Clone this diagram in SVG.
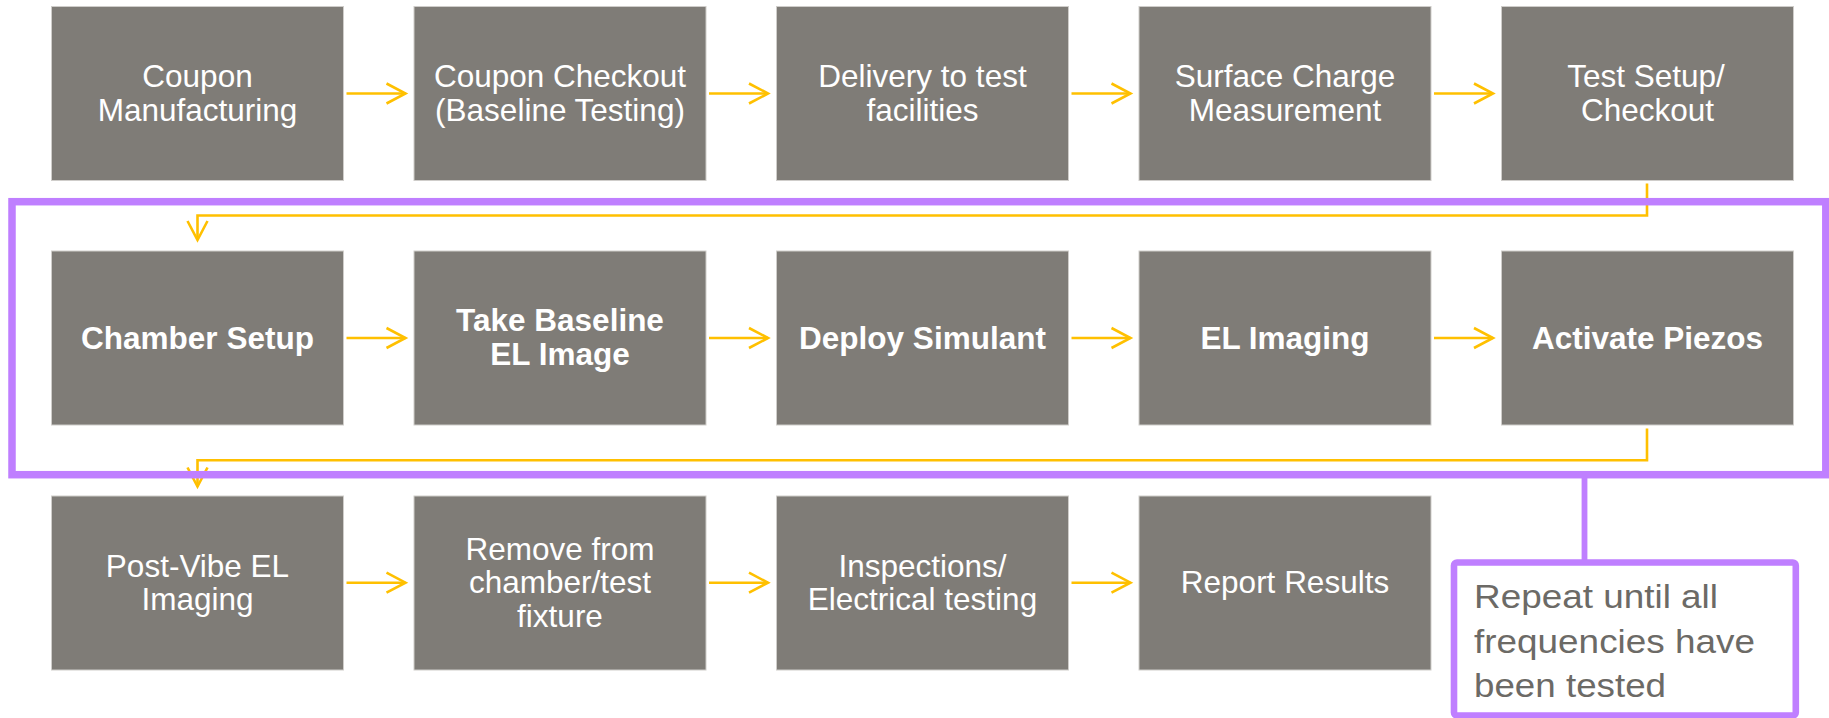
<svg xmlns="http://www.w3.org/2000/svg" width="1829" height="718" viewBox="0 0 1829 718">
  <style>
    .box { fill: #7F7C77; stroke: #CFCDCA; stroke-width: 1; }
    .lbl { font-family: "Liberation Sans", Arial, sans-serif; font-size: 31.5px; fill: #FFFFFF; text-anchor: middle; }
    .bold { font-weight: bold; }
    .flow { fill: none; stroke: #FFC000; stroke-width: 2.6; }
    .loop { fill: none; stroke: #BF7FFF; stroke-width: 7.5; }
    .note { font-family: "Liberation Sans", Arial, sans-serif; font-size: 32.5px; fill: #6C6A66; }
  </style>
  <defs>
    <marker id="chev" markerUnits="userSpaceOnUse" viewBox="0 0 24 24" markerWidth="24" markerHeight="24" refX="21" refY="12" orient="auto">
      <path d="M2,2 L21,12 L2,22" fill="none" stroke="#FFC000" stroke-width="2.6"/>
    </marker>
  </defs>
  <rect width="1829" height="718" fill="#FFFFFF"/>

  <!-- connectors -->
  <g id="connectors">
    <line class="flow" x1="346.5" y1="93.5" x2="405.5" y2="93.5" marker-end="url(#chev)"/>
    <line class="flow" x1="709" y1="93.5" x2="768" y2="93.5" marker-end="url(#chev)"/>
    <line class="flow" x1="1071.5" y1="93.5" x2="1130.5" y2="93.5" marker-end="url(#chev)"/>
    <line class="flow" x1="1434" y1="93.5" x2="1493" y2="93.5" marker-end="url(#chev)"/>
    <path class="flow" d="M1647,183.5 V215.5 H197.5 V240" marker-end="url(#chev)"/>
    <line class="flow" x1="346.5" y1="338" x2="405.5" y2="338" marker-end="url(#chev)"/>
    <line class="flow" x1="709" y1="338" x2="768" y2="338" marker-end="url(#chev)"/>
    <line class="flow" x1="1071.5" y1="338" x2="1130.5" y2="338" marker-end="url(#chev)"/>
    <line class="flow" x1="1434" y1="338" x2="1493" y2="338" marker-end="url(#chev)"/>
    <path class="flow" d="M1647,428.5 V460.3 H197.5 V486.5" marker-end="url(#chev)"/>
    <line class="flow" x1="346.5" y1="582.7" x2="405.5" y2="582.7" marker-end="url(#chev)"/>
    <line class="flow" x1="709" y1="582.7" x2="768" y2="582.7" marker-end="url(#chev)"/>
    <line class="flow" x1="1071.5" y1="582.7" x2="1130.5" y2="582.7" marker-end="url(#chev)"/>
  </g>

  <!-- row 1 -->
  <g id="coupon-manufacturing">
    <rect class="box" x="51.5" y="6.5" width="292" height="174"/>
    <text class="lbl" x="197.5" y="87.3">Coupon</text>
    <text class="lbl" x="197.5" y="120.7">Manufacturing</text>
  </g>
  <g id="coupon-checkout">
    <rect class="box" x="414" y="6.5" width="292" height="174"/>
    <text class="lbl" x="560" y="87.3">Coupon Checkout</text>
    <text class="lbl" x="560" y="120.7">(Baseline Testing)</text>
  </g>
  <g id="delivery">
    <rect class="box" x="776.5" y="6.5" width="292" height="174"/>
    <text class="lbl" x="922.5" y="87.3">Delivery to test</text>
    <text class="lbl" x="922.5" y="120.7">facilities</text>
  </g>
  <g id="surface-charge">
    <rect class="box" x="1139" y="6.5" width="292" height="174"/>
    <text class="lbl" x="1285" y="87.3">Surface Charge</text>
    <text class="lbl" x="1285" y="120.7">Measurement</text>
  </g>
  <g id="test-setup">
    <rect class="box" x="1501.5" y="6.5" width="292" height="174"/>
    <text class="lbl" x="1646" y="87.3">Test Setup/</text>
    <text class="lbl" x="1647.5" y="120.7">Checkout</text>
  </g>

  <!-- row 2 (repeated loop) -->
  <g id="chamber-setup">
    <rect class="box" x="51.5" y="251" width="292" height="174"/>
    <text class="lbl bold" x="197.5" y="348.5">Chamber Setup</text>
  </g>
  <g id="baseline-el">
    <rect class="box" x="414" y="251" width="292" height="174"/>
    <text class="lbl bold" x="560" y="331.3">Take Baseline</text>
    <text class="lbl bold" x="560" y="364.7">EL Image</text>
  </g>
  <g id="deploy-simulant">
    <rect class="box" x="776.5" y="251" width="292" height="174"/>
    <text class="lbl bold" x="922.5" y="348.5">Deploy Simulant</text>
  </g>
  <g id="el-imaging">
    <rect class="box" x="1139" y="251" width="292" height="174"/>
    <text class="lbl bold" x="1285" y="348.5">EL Imaging</text>
  </g>
  <g id="activate-piezos">
    <rect class="box" x="1501.5" y="251" width="292" height="174"/>
    <text class="lbl bold" x="1647.5" y="348.5">Activate Piezos</text>
  </g>

  <!-- row 3 -->
  <g id="post-vibe">
    <rect class="box" x="51.5" y="496" width="292" height="174"/>
    <text class="lbl" x="197.5" y="576.5">Post-Vibe EL</text>
    <text class="lbl" x="197.5" y="609.9">Imaging</text>
  </g>
  <g id="remove">
    <rect class="box" x="414" y="496" width="292" height="174"/>
    <text class="lbl" x="560" y="559.8">Remove from</text>
    <text class="lbl" x="560" y="593.2">chamber/test</text>
    <text class="lbl" x="560" y="626.6">fixture</text>
  </g>
  <g id="inspections">
    <rect class="box" x="776.5" y="496" width="292" height="174"/>
    <text class="lbl" x="922.5" y="576.5">Inspections/</text>
    <text class="lbl" x="922.5" y="609.9">Electrical testing</text>
  </g>
  <g id="report">
    <rect class="box" x="1139" y="496" width="292" height="174"/>
    <text class="lbl" x="1285" y="593.2">Report Results</text>
  </g>

  <!-- loop frame around the repeated steps -->
  <g id="loop-frame">
    <rect class="loop" x="12" y="201.7" width="1813.8" height="273"/>
  </g>

  <!-- loop note -->
  <g id="repeat-note">
    <line x1="1584.5" y1="478" x2="1584.5" y2="561" stroke="#BF7FFF" stroke-width="5.8"/>
    <rect x="1454" y="562.5" width="341.8" height="153" rx="3" fill="#FFFFFF" stroke="#BF7FFF" stroke-width="6.6"/>
    <text class="note" x="1474" y="608.3" textLength="244" lengthAdjust="spacingAndGlyphs">Repeat until all</text>
    <text class="note" x="1474" y="652.5" textLength="281" lengthAdjust="spacingAndGlyphs">frequencies have</text>
    <text class="note" x="1474" y="696.7" textLength="192" lengthAdjust="spacingAndGlyphs">been tested</text>
  </g>
</svg>
